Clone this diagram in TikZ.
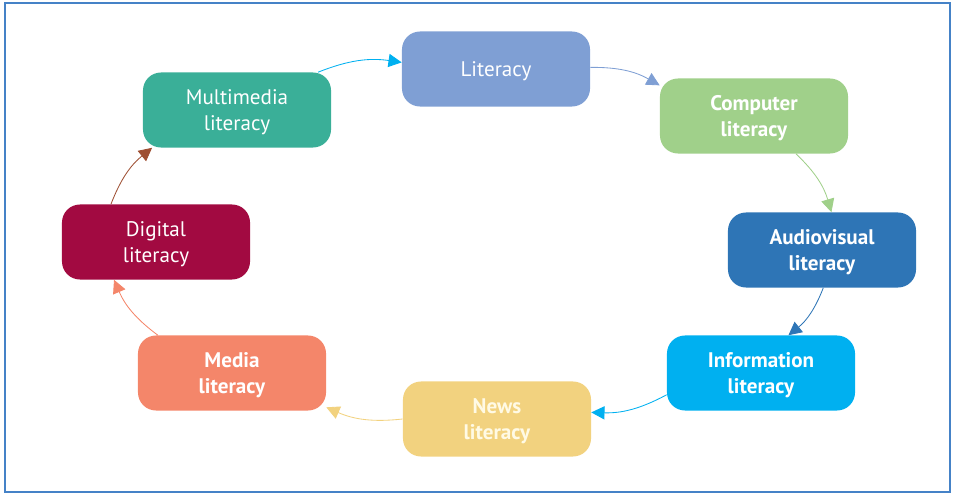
\documentclass[tikz,border=0pt]{standalone}
\usepackage{fontspec}
\setmainfont{PT Sans}
\usetikzlibrary{arrows.meta}

\begin{document}
\begin{tikzpicture}[x=0.025cm,y=0.025cm,
		box/.style={minimum width=4.7cm,minimum height=1.875cm,inner sep=0pt,rounded corners=0.45cm,text=white,align=center,font=\fontsize{15}{18.5}\selectfont,text depth=0pt},
		link/.style={line width=0.6pt,-{Triangle[length=0.33cm,width=0.33cm]},bend left=15}]
			\definecolor{cframe}{rgb}{0.27,0.51,0.78}
			\definecolor{clit}{rgb}{0.498,0.624,0.831}
			\definecolor{ccomp}{rgb}{0.627,0.816,0.541}
			\definecolor{caudio}{rgb}{0.180,0.459,0.714}
			\definecolor{cinfo}{rgb}{0.0,0.690,0.941}
			\definecolor{cnews}{rgb}{0.949,0.824,0.498}
			\definecolor{ctnews}{rgb}{1.0,0.98,0.90}
			\definecolor{cmedia}{rgb}{0.957,0.525,0.416}
			\definecolor{cdigital}{rgb}{0.635,0.039,0.255}
			\definecolor{cmulti}{rgb}{0.227,0.686,0.596}
			\definecolor{cbrown}{rgb}{0.62,0.31,0.20}
			%
			\useasboundingbox (0,0) rectangle (954,494);
			\draw[cframe,line width=0.8pt] (5,2) rectangle (950,491);
			%
			\node[box,fill=clit] (lit) at (496,425) {Literacy};
			\node[box,fill=ccomp,font=\fontsize{15}{18.5}\selectfont\bfseries] (comp) at (754,378) {Computer\\literacy};
			\node[box,fill=caudio,font=\fontsize{15}{18.5}\selectfont\bfseries] (audio) at (822,244) {Audiovisual\\literacy};
			\node[box,fill=cinfo,font=\fontsize{15}{18.5}\selectfont\bfseries] (info) at (761,121) {Information\\literacy};
			\node[box,fill=cnews,text=ctnews,font=\fontsize{15}{18.5}\selectfont\bfseries] (news) at (497,75) {News\\literacy};
			\node[box,fill=cmedia,font=\fontsize{15}{18.5}\selectfont\bfseries] (media) at (232,121) {Media\\literacy};
			\node[box,fill=cdigital] (digital) at (156,252) {Digital\\literacy};
			\node[box,fill=cmulti] (multi) at (237,384) {Multimedia\\literacy};
			%
			\draw[link,cinfo] (multi.25) to (lit.176);
			\draw[link,clit] (lit.1) to (comp.162);
			\draw[link,ccomp] (comp.-42) to (audio.76);
			\draw[link,caudio] (audio.-88) to (info.54);
			\draw[link,cinfo] (info.193) to (news.4);
			\draw[link,cnews] (news.west) to (media.-20);
			\draw[link,cmedia] (media.153) to (digital.222);
			\draw[link,cbrown] (digital.140) to (multi.204);
			%
		\end{tikzpicture}
\end{document}
